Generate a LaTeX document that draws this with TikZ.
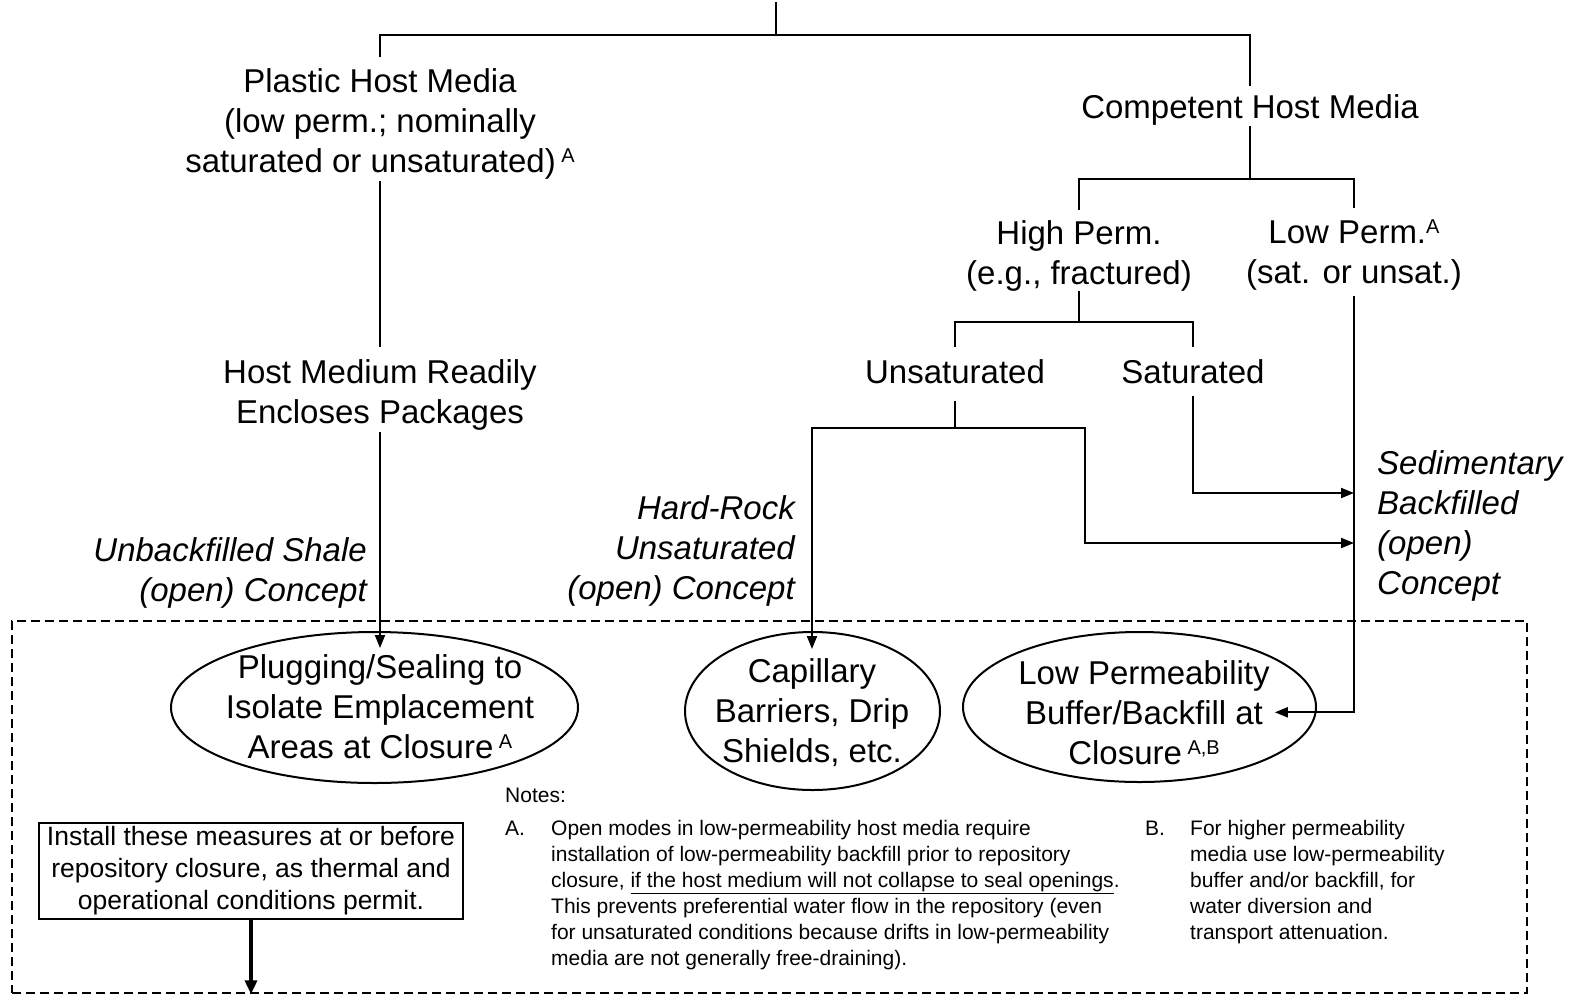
\documentclass[tikz,border=0pt]{standalone}
\usepackage{fontspec}
\setmainfont{Liberation Sans}
\usetikzlibrary{arrows.meta,shapes.geometric}
\newcommand\mysup[1]{\raisebox{10pt}{\fontsize{20}{20}\selectfont #1}}
\newcommand\bigfont{\fontsize{33}{40}\selectfont}
\newcommand\notefont{\fontsize{21}{26}\selectfont}
\begin{document}
\begin{tikzpicture}[x=1pt,y=-1pt,
  txt/.style={inner sep=0pt, align=center, font=\bigfont, anchor=north},
  lbl/.style={inner sep=0pt, font=\bigfont\itshape},
  conn/.style={line width=2pt},
  arr/.style={line width=2pt,-{Triangle[length=13pt,width=10pt]}},
  oval/.style={draw, ellipse, line width=2pt, inner sep=0pt},
  note/.style={inner sep=0pt, font=\notefont},
]
\useasboundingbox (0,0) rectangle (1578,996);

% dashed zone
\node[draw, dash pattern=on 9pt off 5pt, line width=2.5pt, minimum width=1515pt, minimum height=372pt, inner sep=0pt] (zone) at (769.5,807) {};

% tree text
\coordinate (top) at (776,2);
\coordinate (j0) at (776,35);
\node[txt] (plastic) at (380,68) {Plastic Host Media\\(low perm.; nominally\\saturated or unsaturated)\,\mysup{A}};
\node[txt] (competent) at (1250,94) {Competent Host Media};
\node[txt] (highperm) at (1079,220) {High Perm.\\(e.g., fractured)};
\node[txt] (lowperm) at (1354,220) {Low Perm.\mysup{A}\\(sat. or unsat.)};
\node[txt] (unsat) at (955,359) {Unsaturated};
\node[txt] (sat) at (1193,359) {Saturated};
\node[txt] (hostmed) at (380,359) {Host Medium Readily\\Encloses Packages};

% italic labels
\node[lbl, anchor=north east, align=right] (unbf) at (367,537) {Unbackfilled Shale\\(open) Concept};
\node[lbl, anchor=north east, align=right] (hardrock) at (795,495) {Hard-Rock\\Unsaturated\\(open) Concept};
\node[lbl, anchor=north west, align=left] (sedim) at (1377,450) {Sedimentary\\Backfilled\\(open)\\Concept};

% ellipses
\node[oval, minimum width=407pt, minimum height=151pt] (plugE) at (374.5,707.5) {};
\node[oval, minimum width=255pt, minimum height=158pt] (capE) at (812.5,711) {};
\node[oval, minimum width=353pt, minimum height=150pt] (bufE) at (1139.5,707) {};
\node[txt] (plug) at (380,654) {Plugging/Sealing to\\Isolate Emplacement\\Areas at Closure\,\mysup{A}};
\node[txt] (cap) at (812,658) {Capillary\\Barriers, Drip\\Shields, etc.};
\node[txt] (buf) at (1144,660) {Low Permeability\\Buffer/Backfill at\\Closure\,\mysup{A,B}};

% install box
\node[draw, line width=2pt, minimum width=424pt, minimum height=96pt, inner sep=0pt, align=center, font=\fontsize{26.5}{32}\selectfont] (install) at (251,871) {Install these measures at or before\\repository closure, as thermal and\\operational conditions permit.};
\draw[line width=3.5pt, -{Triangle[length=14pt,width=12pt]}] (install.south) -- (install.south |- zone.south);

% notes
\node[note, anchor=base west] (notes) at (505,802) {Notes:};
\node[note, anchor=base west] (nA) at (505,835) {A.};
\node[note, anchor=north west, align=left] (noteA) at (551,820) {Open modes in low-permeability host media require\\installation of low-permeability backfill prior to repository\\closure, \underline{if the host medium will not collapse to seal openings}.\\This prevents preferential water flow in the repository (even\\for unsaturated conditions because drifts in low-permeability\\media are not generally free-draining).};
\node[note, anchor=base west] (nB) at (1145,835) {B.};
\node[note, anchor=north west, align=left] (noteB) at (1190,820) {For higher permeability\\media use low-permeability\\buffer and/or backfill, for\\water diversion and\\transport attenuation.};

% connectors
\draw[conn] (top) -- (j0);
\draw[conn] ([yshift=11pt]plastic.north) |- (j0) -| ([yshift=8pt]competent.north);
\coordinate (j1) at (1250,179);
\draw[conn] ([yshift=-1pt]competent.south) -- (j1);
\draw[conn] ([yshift=10pt]highperm.north) |- (j1) -| ([yshift=12pt]lowperm.north);
\coordinate (j2) at (1079,322);
\draw[conn] (highperm.south) -- (j2);
\draw[conn] ([yshift=12pt]unsat.north) |- (j2) -| ([yshift=12pt]sat.north);
\coordinate (j3) at (955,428);
\draw[conn] ([yshift=-17pt]unsat.south) -- (j3);
\draw[arr] (j3) -| ([yshift=9pt]cap.north);
\coordinate (k1) at (1085,543);
\draw[arr] (j3) -| (k1) -- (k1 -| lowperm.south);
\coordinate (k2) at (1354,493);
\draw[arr] ([yshift=-12pt]sat.south) |- (k2);
\draw[arr] ([yshift=-5pt]lowperm.south) |- ([xshift=5pt]buf.east);
\draw[conn] ([yshift=-2pt]plastic.south) -- ([yshift=12pt]hostmed.north);
\draw[arr] ([yshift=-2pt]hostmed.south) -- ([yshift=6pt]plug.north);
\end{tikzpicture}
\end{document}
